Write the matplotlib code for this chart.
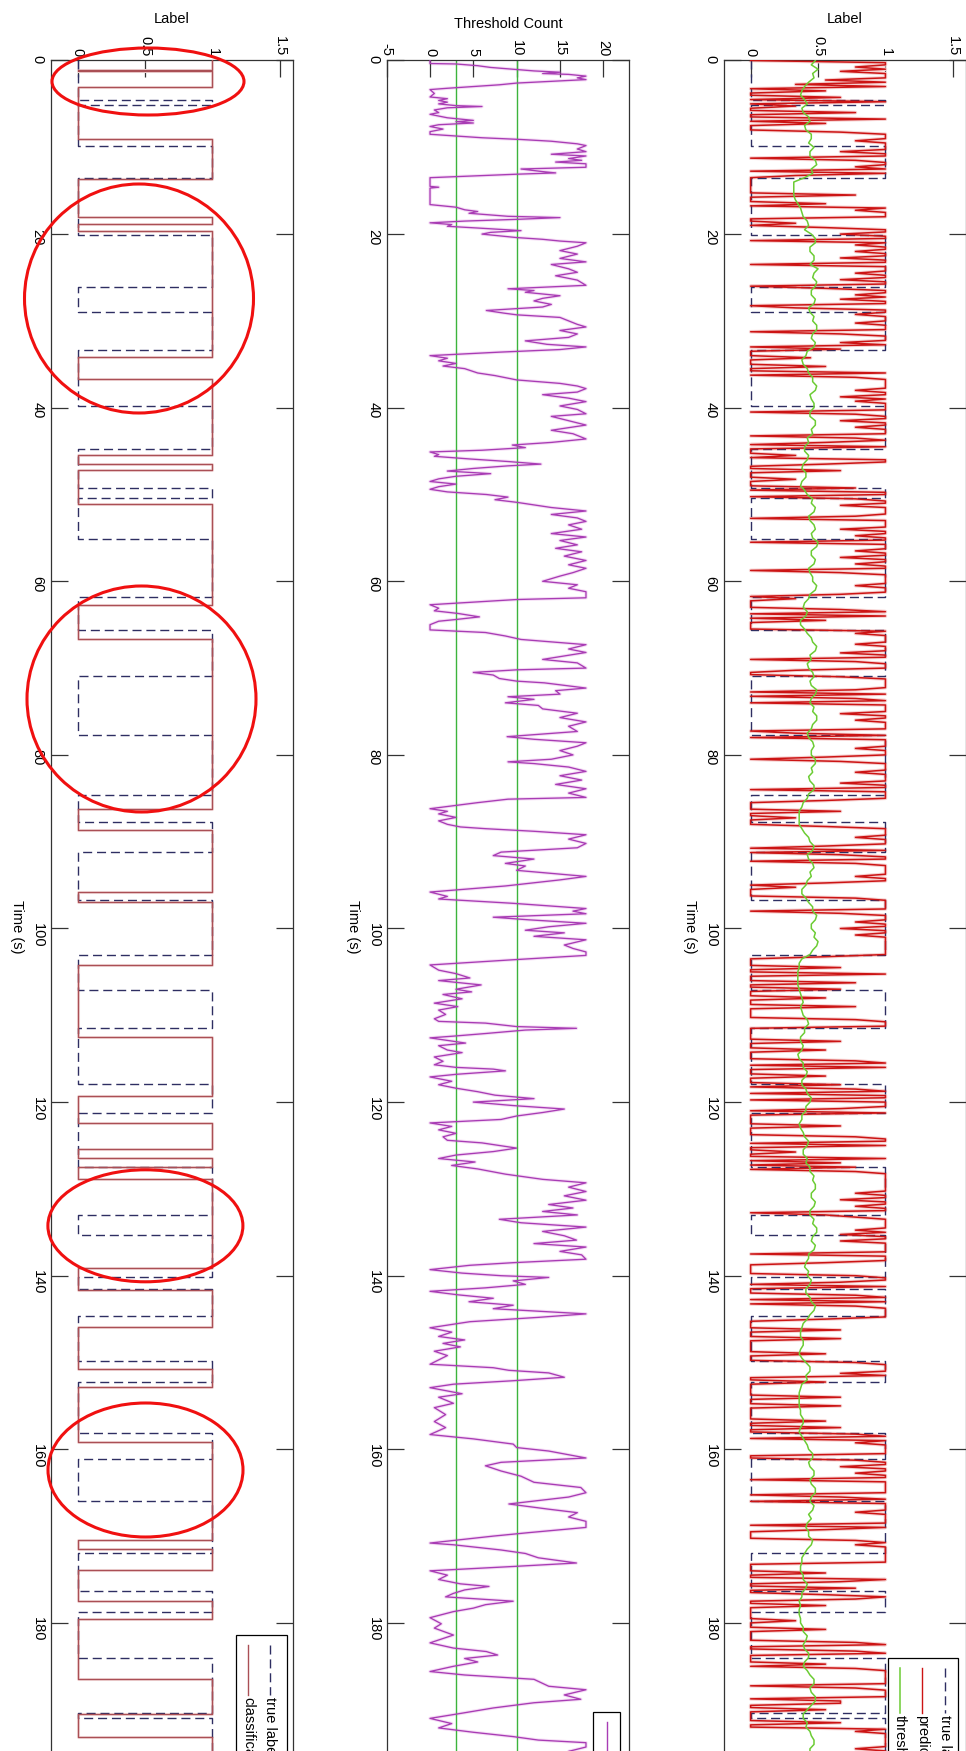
import numpy as np
import matplotlib
matplotlib.use("Agg")
import matplotlib.pyplot as plt
from matplotlib.patches import Ellipse, Rectangle

plt.rcParams["font.family"] = ["Liberation Sans", "DejaVu Sans"]
plt.rcParams["axes.unicode_minus"] = False

# ---------------- data ----------------
time_ticks = list(range(0, 181, 20))
label_ticks = [0, 0.5, 1, 1.5]
label_tick_text = ["0", "0.5", "1", "1.5"]
count_ticks = [-5, 0, 5, 10, 15, 20]
count_tick_text = ["-5", "0", "5", "10", "15", "20"]
count_levels = [3, 10]

# true label: starting value and switching times (s)
true_label_start = 0
true_label_switch = [4.5, 5.1, 9.8, 13.5, 20.1, 26.1, 29.0, 33.3, 39.8, 44.8,
                     49.3, 50.4, 55.1, 61.8, 65.6, 70.9, 77.7, 84.6, 87.7, 91.2,
                     96.7, 103.0, 107.1, 111.5, 117.9, 121.3, 127.5, 133.0, 135.3,
                     140.2, 141.5, 144.7, 149.8, 152.2, 158.1, 161.1, 166.0,
                     172.0, 176.3, 178.8, 184.1, 190.4, 191.0]

# classification: starting value and switching times (s)
classification_start = 1
classification_switch = [1.15, 1.25, 3.1, 9.1, 13.7, 18.0, 18.8, 19.6, 34.2, 36.7,
                         45.4, 46.5, 47.2, 51.1, 62.7, 66.7, 86.2, 88.7, 95.8, 97.0,
                         104.2, 112.5, 119.3, 122.4, 125.4, 126.4, 127.5, 128.9,
                         139.1, 141.6, 145.9, 150.8, 152.8, 159.2, 170.5, 171.5,
                         173.9, 177.5, 179.5, 186.5, 190.5, 193.1]

# classifier output, one digit per 0.25 s (digit / 9), one row per 10 s
predicted_step = 0.25
predicted_digits = [
    "09979699 95939050 06090300 70090500 06999799",
    "99699079 97909300 00000070 00509799 90030599",
    "69909799 79969909 99799699 05997969 90399799",
    "97999069 99690600 04000500 90799999 79969799",
    "99079969 97999079 50900030 99500600 03000709",
    "90799699 99709999 69979909 99799699 79906999",
    "99799960 30000690 90500009 79999799 96990799",
    "93006999 99709079 09999699 79999039 09999799",
    "95069999 79999699 09999500 00600300 05999979",
    "99509069 90799999 79950300 00799999 06999799",
    "69979999 99999500 00600900 07006000 50007000",
    "00799900 00006000 50000790 90005000 60790990",
    "99960900 00060000 79909003 00906070 79999999",
    "99799699 79905799 99979699 69999909 99500000",
    "79960900 07909079 99995000 06000600 00005000",
    "79999690 05000000 60006000 00050060 07909799",
    "99900799 69979909 99999069 09999799 99909500",
    "00797999 99999000 05009600 70059700 50000003",
    "00050000 07900790 00050799 99999079 99906600",
    "50000060 09799999 99799999 79969909 99799999",
]

# adaptive threshold, every 0.5 s (in hundredths)
threshold_step = 0.5
threshold_pct = [
    48, 45, 50, 46, 47, 43, 40, 38, 37, 40, 42, 38, 39, 43, 44, 40, 41, 45, 45, 43,
    47, 44, 44, 48, 49, 45, 46, 40, 32, 32, 32, 32, 33, 35, 37, 38, 39, 42, 43, 40,
    45, 48, 48, 44, 44, 47, 47, 44, 50, 47, 46, 49, 48, 45, 45, 48, 47, 43, 44, 47,
    46, 49, 49, 46, 45, 48, 47, 42, 41, 38, 39, 42, 43, 46, 46, 49, 48, 44, 45, 47,
    47, 44, 44, 48, 48, 45, 46, 42, 43, 40, 40, 43, 42, 39, 38, 41, 41, 38, 37, 40,
    42, 46, 45, 48, 47, 43, 44, 47, 48, 45, 46, 50, 49, 45, 45, 48, 47, 43, 44, 46,
    46, 49, 48, 44, 43, 40, 39, 42, 41, 37, 37, 40, 42, 45, 46, 49, 48, 44, 45, 42,
    43, 46, 47, 44, 45, 49, 48, 45, 44, 47, 46, 49, 49, 46, 45, 42, 43, 46, 47, 45,
    45, 48, 48, 45, 46, 43, 44, 47, 47, 43, 42, 39, 38, 36, 36, 36, 36, 38, 40, 43,
    44, 47, 46, 42, 43, 46, 47, 44, 45, 42, 41, 38, 38, 41, 43, 46, 46, 49, 48, 45,
    45, 48, 47, 50, 49, 46, 44, 38, 36, 36, 35, 35, 35, 35, 36, 37, 38, 39, 37, 38,
    39, 42, 43, 40, 40, 37, 37, 39, 38, 35, 36, 39, 39, 42, 41, 38, 38, 41, 42, 45,
    44, 41, 41, 38, 38, 36, 37, 39, 40, 43, 42, 39, 39, 42, 41, 44, 44, 47, 46, 48,
    48, 45, 45, 48, 47, 44, 44, 47, 46, 49, 49, 46, 45, 48, 47, 43, 43, 41, 40, 43,
    42, 45, 44, 41, 41, 44, 45, 48, 47, 44, 42, 39, 38, 37, 37, 39, 39, 37, 36, 38,
    41, 44, 44, 41, 42, 38, 37, 36, 36, 36, 36, 37, 37, 39, 39, 37, 36, 38, 40, 42,
    43, 46, 46, 43, 44, 47, 47, 44, 45, 48, 48, 45, 44, 47, 46, 43, 45, 42, 41, 43,
    43, 46, 45, 42, 40, 38, 38, 37, 37, 39, 39, 42, 41, 38, 38, 36, 37, 36, 36, 37,
    37, 39, 39, 42, 41, 39, 40, 43, 43, 40, 39, 42, 44, 47, 47, 44, 45, 48, 48, 45,
    42, 39, 39, 42, 41, 44, 45, 47, 47, 44, 44, 47, 48, 46, 46, 48, 47, 44, 45, 46, 46,
]

# threshold count vertices (time s, count)
count_points = [
    (0.0, 0), (0.35, 0), (0.4, 3), (0.6, 5.5), (0.8, 7), (1.0, 9.5), (1.2, 12),
    (1.35, 15), (1.5, 13), (1.6, 16), (1.8, 18), (2.0, 17), (2.2, 18), (2.4, 14),
    (2.6, 10), (2.8, 8), (3.0, 5), (3.2, 2), (3.35, 0), (3.8, 0.5), (4.2, 0),
    (4.4, 2), (4.6, 1), (4.8, 2), (5.0, 1), (5.2, 3), (5.3, 6), (5.45, 2),
    (5.7, 0.5), (6.0, 1), (6.2, 0), (6.6, 2), (6.9, 5), (7.05, 3), (7.2, 5),
    (7.4, 1), (7.6, 0), (7.9, 1.5), (8.2, 0), (8.5, 0), (8.7, 3), (8.9, 6),
    (9.1, 10.5), (9.3, 14), (9.6, 17), (9.8, 18), (10.2, 17), (10.5, 18),
    (10.8, 14), (11.0, 18), (11.3, 16), (11.5, 17.5), (11.7, 14.5), (11.9, 18),
    (12.3, 18), (12.5, 10.5), (12.8, 13), (12.95, 14.5), (13.1, 10), (13.3, 5),
    (13.5, 0), (14.5, 0), (14.6, 1), (14.7, 0), (16.6, 0), (16.9, 3), (17.2, 4),
    (17.4, 5.5), (17.6, 4.5), (17.8, 7), (17.95, 9), (18.1, 15), (18.3, 10),
    (18.5, 4), (18.7, 0), (18.9, 2.5), (19.1, 2), (19.3, 5.5), (19.6, 10.5),
    (19.8, 7), (20.0, 6), (20.2, 8), (20.4, 10), (20.6, 13), (20.8, 15),
    (21.0, 18), (21.4, 17), (21.9, 15), (22.3, 17), (22.8, 15), (23.2, 18),
    (23.5, 14), (24.0, 16), (24.4, 17), (24.8, 14.5), (25.3, 17), (25.9, 18),
    (26.3, 9), (26.5, 12), (26.7, 11), (27.1, 15), (27.4, 13), (27.7, 12),
    (28.1, 14), (28.4, 13), (28.8, 6.5), (29.1, 8.5), (29.3, 10), (29.6, 15),
    (30.0, 16), (30.4, 17), (30.7, 18), (31.1, 15), (31.5, 17), (31.9, 16),
    (32.3, 11), (32.7, 13.5), (33.0, 18), (33.3, 15), (33.6, 8), (34.0, 0),
    (34.3, 2), (34.6, 1), (34.9, 3), (35.2, 1.5), (35.5, 4), (36.0, 5.5),
    (36.3, 7.5), (36.8, 10), (37.2, 15), (37.5, 17), (37.8, 18), (38.2, 17),
    (38.5, 13), (38.9, 16), (39.3, 18), (39.8, 15), (40.2, 17), (40.7, 18),
    (41.0, 14), (41.5, 16), (42.0, 18), (42.6, 14), (43.0, 16.5), (43.6, 18),
    (44.0, 14), (44.3, 9.5), (44.6, 11), (44.9, 6), (45.1, 0), (45.4, 1),
    (45.6, 0.5), (45.9, 4.5), (46.2, 9), (46.5, 12.8), (46.7, 9), (47.0, 5),
    (47.3, 2), (47.6, 7), (47.9, 3), (48.2, 1), (48.5, 0), (48.8, 3), (49.1, 1),
    (49.4, 0), (49.7, 2), (50.0, 6.5), (50.3, 9), (50.6, 7.5), (50.9, 10),
    (51.2, 12), (51.5, 14), (51.9, 18), (52.3, 14), (52.7, 17), (53.1, 18),
    (53.5, 16), (54.0, 17.5), (54.5, 14), (54.9, 18), (55.3, 15), (55.8, 17),
    (56.2, 14.5), (56.6, 17.5), (57.1, 15.5), (57.6, 18), (58.1, 16), (58.5, 18),
    (59.0, 16.5), (59.4, 15), (60.0, 13), (60.4, 17), (60.8, 16), (61.2, 18),
    (61.9, 18), (62.1, 10), (62.4, 5), (62.7, 0), (63.1, 1), (63.4, 0.5),
    (63.7, 3.2), (64.1, 5.7), (64.4, 3), (64.6, 1), (65.0, 0), (65.6, 0),
    (65.9, 6.4), (66.3, 8.7), (66.7, 10.5), (67.3, 18), (67.8, 16), (68.2, 18),
    (68.6, 15.5), (69.0, 13), (69.4, 17), (70.0, 18), (70.2, 10), (70.5, 5),
    (70.8, 7.3), (71.2, 8), (71.5, 10), (71.7, 13.2), (72.3, 18), (72.6, 14.5),
    (73.0, 15), (73.3, 9), (73.6, 12), (74.0, 8.7), (74.3, 12.5), (74.7, 13),
    (75.2, 17), (75.7, 15), (76.2, 18), (76.7, 16), (77.3, 17), (77.9, 8.9),
    (78.2, 12), (78.6, 18), (79.0, 17), (79.5, 15), (80.0, 16.5), (80.5, 14),
    (80.8, 9), (81.0, 12), (81.4, 16), (81.9, 18), (82.4, 15), (82.9, 17.5),
    (83.4, 14.5), (83.9, 18), (84.4, 16), (84.9, 18), (85.1, 9), (85.5, 5.5),
    (86.2, 0), (86.5, 2), (86.8, 1), (87.2, 3), (87.6, 1), (88.0, 2), (88.3, 3.5),
    (88.5, 6.4), (88.8, 12), (89.2, 18), (89.7, 16), (90.2, 18), (90.7, 17),
    (91.2, 8.2), (91.6, 7.3), (92.0, 12), (92.5, 8.7), (92.8, 11), (93.3, 10),
    (94.0, 18), (94.4, 15), (95.1, 8.7), (95.4, 5), (95.8, 0), (96.3, 2),
    (96.6, 1), (97.1, 9.6), (97.7, 18), (98.0, 16.5), (98.3, 18), (98.7, 7.3),
    (99.0, 11.4), (99.4, 18), (99.8, 13.7), (100.2, 11), (100.5, 15.5),
    (100.9, 12), (101.3, 18), (101.9, 15.5), (102.3, 16.5), (102.7, 18),
    (103.1, 18), (103.6, 9.6), (104.2, 0), (104.8, 1), (105.2, 3), (105.7, 4.6),
    (106.0, 1), (106.5, 5.9), (107.0, 3), (107.3, 4.8), (107.6, 1.5), (108.1, 3.7),
    (108.6, 0.5), (109.0, 3.2), (109.4, 1), (109.9, 1.8), (110.4, 0.5), (110.7, 1),
    (110.9, 6.4), (111.3, 10), (111.5, 16.9), (111.7, 11), (112.1, 6.4),
    (112.4, 2.7), (112.6, 0), (113.2, 4.1), (113.5, 1), (114.0, 2), (114.3, 3.7),
    (114.8, 0.5), (115.3, 1.5), (115.7, 0.5), (116.0, 3), (116.2, 7.3),
    (116.4, 8.7), (116.8, 3), (117.1, 0), (117.6, 2.5), (118.0, 1), (118.4, 3),
    (118.8, 5.5), (119.2, 7.5), (119.6, 12), (120.0, 5), (120.4, 9.6),
    (120.8, 15.5), (121.2, 13), (121.6, 10), (122.0, 8.2), (122.4, 0),
    (122.8, 2.5), (123.2, 1), (123.6, 3), (124.0, 1.5), (124.4, 2), (124.7, 6),
    (125.0, 8), (125.3, 10), (125.7, 7.3), (126.1, 3), (126.5, 1), (126.9, 5.2),
    (127.3, 2.5), (127.7, 5.5), (128.3, 8.7), (128.9, 13), (129.3, 18),
    (129.8, 16), (130.3, 18), (130.8, 15.5), (131.3, 18), (131.8, 13.7),
    (132.2, 16.5), (132.6, 13), (133.0, 17), (133.5, 8), (133.9, 10.5),
    (134.4, 18), (134.9, 13), (135.4, 15.5), (135.9, 16.9), (136.3, 12),
    (136.7, 18), (137.2, 15), (137.6, 17.5), (138.1, 18), (138.5, 9.6),
    (138.8, 4.6), (139.3, 0), (139.7, 3.7), (140.0, 8.2), (140.2, 13.7),
    (140.6, 9.6), (141.0, 11), (141.4, 6.4), (141.8, 0), (142.2, 3.2),
    (142.6, 7.3), (143.0, 4.5), (143.4, 9.6), (143.8, 7.3), (144.4, 18),
    (144.8, 12.5), (145.3, 4.6), (146.0, 0), (146.5, 2.5), (147.0, 1), (147.4, 4),
    (147.8, 1.5), (148.2, 3.5), (148.7, 0.5), (149.2, 2), (149.7, 1), (150.2, 0),
    (150.6, 7.3), (150.9, 9.1), (151.2, 13.7), (151.7, 15.5), (152.1, 9.6),
    (152.5, 2.7), (152.9, 0), (153.6, 3.7), (154.0, 1), (154.7, 2.7), (155.2, 0.5),
    (156.0, 1.8), (156.8, 0.5), (157.5, 1.8), (158.3, 0), (158.8, 5), (159.4, 9.6),
    (159.8, 10), (160.2, 13.7), (161.0, 18), (161.5, 8.2), (161.9, 6.4),
    (162.5, 8.2), (163.1, 10.5), (163.8, 12), (164.4, 17.4), (165.0, 18),
    (165.5, 16), (166.3, 9.1), (166.9, 13.7), (167.3, 17), (167.8, 16),
    (168.3, 18), (169.0, 18), (169.6, 11.4), (170.0, 7.3), (170.5, 2.7),
    (170.8, 0), (171.0, 2.7), (171.6, 8.2), (172.0, 11), (172.5, 12.5),
    (173.1, 16.9), (173.5, 9.6), (174.0, 0), (174.5, 2), (175.0, 1), (175.5, 3.5),
    (175.8, 6.8), (176.2, 4), (176.6, 2.7), (177.0, 1.8), (177.5, 9.6),
    (177.9, 6.4), (178.3, 5), (178.7, 2.7), (179.4, 0), (180.1, 1.3), (180.6, 0.5),
    (181.4, 2.7), (182.3, 0), (182.9, 2.7), (183.3, 6.5), (183.7, 7.8), (184.1, 4),
    (184.5, 5.5), (185.0, 2.7), (185.6, 0), (186.0, 4), (186.5, 12), (187.3, 13.7),
    (187.7, 18), (188.3, 15.5), (188.8, 17.4), (189.2, 12), (189.8, 7.3),
    (190.4, 3.7), (191.0, 0), (191.6, 2.5), (192.1, 1), (192.6, 5), (193.1, 9.6),
    (193.5, 12.5), (193.8, 18), (194.3, 18), (194.8, 16), (195.5, 18), (196.3, 14),
    (197.0, 17), (197.8, 12), (198.5, 16), (199.3, 18), (200.0, 17),
]

# ---------------- styling ----------------
W, H = 966, 1751
T_END = 200
C_CLASS = "#aa4f55"
C_CLASS_HALO = "#f7e2e2"
C_TRUE = "#2e2e62"
C_PRED = "#cc1414"
C_PRED_HALO = "#f6d0d0"
C_THR = "#6ccc34"
C_COUNT = "#a83cb4"
C_COUNT_HALO = "#f5dcf5"
C_LEVEL = "#3cb43c"
C_FRAME = "#333333"
C_MARK = "#f01010"
FS = 10.5


def step_xy(start, switches, t_end):
    """Vertices of a 0/1 step signal drawn with time on the vertical axis."""
    xs, ys = [start], [0.0]
    v = start
    for t in switches:
        xs += [v, 1 - v]
        ys += [t, t]
        v = 1 - v
    xs.append(v)
    ys.append(t_end)
    return xs, ys


def setup(ax, xlim, xticks, xtext):
    ax.set_xlim(*xlim)
    ax.set_ylim(T_END, 0)
    ax.set_xticks(xticks)
    ax.set_xticklabels(xtext)
    ax.set_yticks(time_ticks)
    ax.set_yticklabels([str(t) for t in time_ticks])
    ax.tick_params(axis="x", direction="in", length=12, width=0.9, color=C_FRAME,
                   top=True, bottom=True, labeltop=True, labelbottom=False,
                   labelrotation=-90, labelsize=FS, pad=3.2)
    ax.tick_params(axis="y", direction="in", length=12, width=0.9, color=C_FRAME,
                   left=True, right=True, labelleft=True, labelright=False,
                   labelrotation=-90, labelsize=FS, pad=4.5)
    for s in ax.spines.values():
        s.set_linewidth(0.9)
        s.set_color(C_FRAME)


fig = plt.figure(figsize=(W / 100, H / 100), dpi=100)
fig.patch.set_facecolor("white")

px_per_s = 8.68
top = 1 - 60.5 / H
height = T_END * px_per_s / H
bottom = top - height
width = 242.6 / W
lefts = [50.7 / W, 386.7 / W, 723.7 / W]

ax_cls = fig.add_axes([lefts[0], bottom, width, height])
ax_cnt = fig.add_axes([lefts[1], bottom, width, height])
ax_prd = fig.add_axes([lefts[2], bottom, width, height])

setup(ax_cls, (-0.2, 1.6), label_ticks, label_tick_text)
setup(ax_cnt, (-5, 23), count_ticks, count_tick_text)
setup(ax_prd, (-0.2, 1.6), label_ticks, label_tick_text)

dash = (0, (6.5, 3.5))

# ---- left panel: true label vs classification ----
tx, ty = step_xy(true_label_start, true_label_switch, T_END)
cx, cy = step_xy(classification_start, classification_switch, T_END)
ax_cls.plot(cx, cy, color=C_CLASS_HALO, lw=2.2, zorder=2)
ax_cls.plot(tx, ty, color=C_TRUE, lw=1.0, linestyle=dash, zorder=3)
ax_cls.plot(cx, cy, color=C_CLASS, lw=1.0, zorder=4)

# ---- middle panel: threshold count ----
ct = [p[0] for p in count_points]
cv = [p[1] for p in count_points]
for lvl in count_levels:
    ax_cnt.axvline(lvl, color=C_LEVEL, lw=1.0, zorder=2)
ax_cnt.plot(cv, ct, color=C_COUNT_HALO, lw=2.4, zorder=1)
ax_cnt.plot(cv, ct, color=C_COUNT, lw=0.95, zorder=3)

# ---- right panel: prediction and threshold ----
pvals = [int(c) / 9.0 for row in predicted_digits for c in row.replace(" ", "")]
pt = np.arange(len(pvals)) * predicted_step
thr = np.array(threshold_pct) / 100.0
thr_t = np.arange(len(thr)) * threshold_step
ax_prd.plot(pvals, pt, color=C_PRED_HALO, lw=2.6, zorder=2)
ax_prd.plot(tx, ty, color=C_TRUE, lw=1.0, linestyle=dash, zorder=3)
ax_prd.plot(pvals, pt, color=C_PRED, lw=1.1, zorder=4)
ax_prd.plot(thr, thr_t, color=C_THR, lw=1.1, zorder=5)

# ---- axis titles ----
fig.text(172 / W, 1 - 19 / H, "Label", ha="center", va="center", fontsize=FS)
fig.text(508 / W, 1 - 23.5 / H, "Threshold Count", ha="center", va="center", fontsize=FS)
fig.text(845 / W, 1 - 19 / H, "Label", ha="center", va="center", fontsize=FS)
for xc in (16.7, 353, 690):
    fig.text(xc / W, 1 - 926.5 / H, "Time (s)", ha="center", va="center",
             rotation=-90, fontsize=FS)


# ---- legends (rotated with the panels) ----
def legend_box(ax, x0, x1, t0, t1):
    ax.add_patch(Rectangle((x0, t0), x1 - x0, t1 - t0, facecolor="white",
                           edgecolor="black", lw=0.9, zorder=10))


def legend_entry(ax, x, t0, t1, text, **style):
    ax.plot([x, x], [t0, t1], zorder=11, **style)
    ax.text(x, t1 + 0.25, text, rotation=-90, rotation_mode="anchor",
            ha="left", va="center", fontsize=FS, zorder=12)


legend_box(ax_cls, 1.176, 1.551, 181.4, 205)
legend_entry(ax_cls, 1.43, 182.5, 188.3, "true label", color=C_TRUE, lw=1.0, linestyle=dash)
legend_entry(ax_cls, 1.266, 182.5, 188.3, "classification", color=C_CLASS, lw=1.0)

legend_box(ax_cnt, 18.8, 21.9, 190.3, 210)
legend_entry(ax_cnt, 20.4, 191.4, 197.2, "count", color=C_COUNT, lw=1.0)

legend_box(ax_prd, 1.017, 1.54, 184.0, 210)
legend_entry(ax_prd, 1.443, 185.2, 190.4, "true label", color=C_TRUE, lw=1.0, linestyle=dash)
legend_entry(ax_prd, 1.27, 185.2, 190.4, "predicted", color=C_PRED, lw=1.0)
legend_entry(ax_prd, 1.106, 185.2, 190.4, "threshold", color=C_THR, lw=1.1)

# ---- hand-drawn highlight rings on the left panel ----
rings = [(148, 81.5, 192, 67), (139, 298.5, 229, 229), (141.5, 699, 229, 226),
         (145.4, 1225.8, 195, 112), (145.5, 1470, 195, 134)]
for xc, yc, w, h in rings:
    fig.add_artist(Ellipse((xc / W, 1 - yc / H), w / W, h / H, fill=False,
                           edgecolor=C_MARK, lw=2.2, transform=fig.transFigure,
                           zorder=20))

fig.savefig("out.png", dpi=100, facecolor="white")
